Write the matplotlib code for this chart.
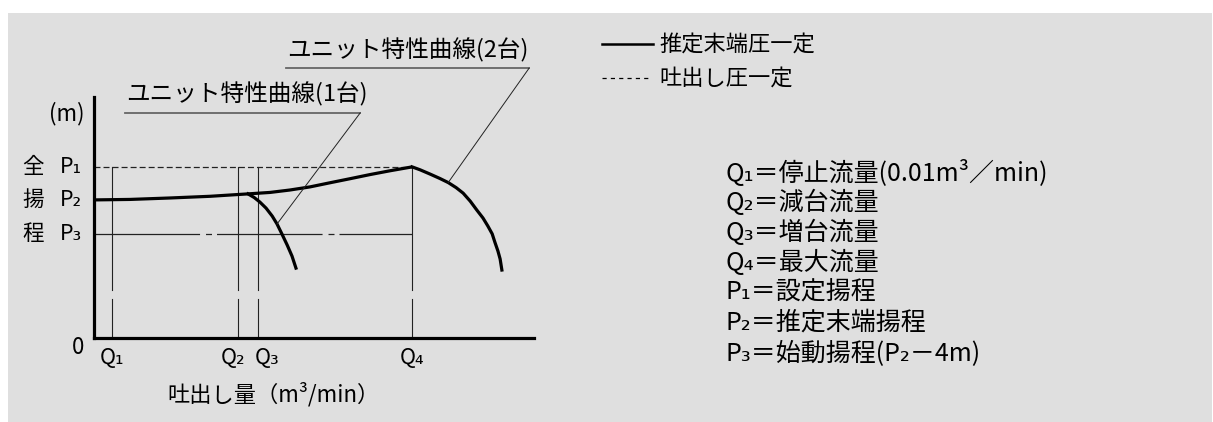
import matplotlib
matplotlib.use("Agg")
import matplotlib.pyplot as plt
from matplotlib.lines import Line2D
from matplotlib.patches import Rectangle

plt.rcParams['font.family'] = ['Noto Sans CJK JP', 'DejaVu Sans']
plt.rcParams['lines.scale_dashes'] = False

# flow marks Q1..Q4 and head marks P1..P3 (schematic units)
flow_marks = [0.41, 3.27, 3.73, 7.23]
flow_labels = ['Q₁', 'Q₂', 'Q₃', 'Q₄']
head_marks = [7.10, 5.73, 4.32]
head_labels = ['P₁', 'P₂', 'P₃']
head_title = ['全', '揚', '程']

# estimated end pressure constant curve (from P2 up to the Q4/P1 corner)
main_x = [0, 0.82, 1.73, 2.64, 3.50, 4.00, 4.45, 4.91, 5.36, 5.82, 6.27, 6.73, 7.23]
main_y = [5.73, 5.75, 5.81, 5.88, 5.98, 6.04, 6.14, 6.27, 6.44, 6.61, 6.78, 6.94, 7.10]

# unit characteristic curves
one_x = [3.50, 3.64, 3.77, 3.91, 4.05, 4.16, 4.27, 4.39, 4.50, 4.59]
one_y = [5.98, 5.83, 5.64, 5.39, 5.06, 4.73, 4.32, 3.86, 3.40, 2.90]
two_x = [7.23, 7.41, 7.64, 7.86, 8.05, 8.23, 8.39, 8.55, 8.70, 8.84,
         8.95, 9.05, 9.11, 9.18, 9.23, 9.27]
two_y = [7.10, 6.98, 6.80, 6.62, 6.45, 6.24, 6.01, 5.68, 5.31, 4.98,
         4.65, 4.32, 3.98, 3.61, 3.28, 2.82]

legend_labels = ['推定末端圧一定', '吐出し圧一定']
notes = ['Q₁＝停止流量(0.01m³／min)', 'Q₂＝減台流量', 'Q₃＝増台流量', 'Q₄＝最大流量',
         'P₁＝設定揚程', 'P₂＝推定末端揚程', 'P₃＝始動揚程(P₂－4m)']

W, H = 1213, 422
fig = plt.figure(figsize=(W / 100, H / 100), dpi=100, facecolor='white')
fig.add_artist(Rectangle((8 / W, 0), (W - 9) / W, (H - 13) / H,
                         transform=fig.transFigure, facecolor='#dfdfdf',
                         edgecolor='none', zorder=-10))

def fx(x):
    return x / W

def fy(y):
    return 1 - y / H

ax = fig.add_axes([fx(94), fy(338), (534 - 94) / W, (338 - 97) / H])
ax.set_facecolor('none')
ax.set_xlim(0, 10)
ax.set_ylim(0, 10)
for s in ['top', 'right']:
    ax.spines[s].set_visible(False)
for s in ['left', 'bottom']:
    ax.spines[s].set_linewidth(2.3)
ax.set_xticks([])
ax.set_yticks([])

thin = dict(color='#222222', linewidth=0.8)
gap_top, gap_bot = 1.99, 1.62

# vertical Q lines with a break near the bottom
for q in flow_marks:
    ax.plot([q, q], [head_marks[0], gap_top], **thin)
    ax.plot([q, q], [gap_bot, 0], **thin)

# P1 dashed, P3 dash-dot
ax.plot([0, flow_marks[3]], [head_marks[0], head_marks[0]], color='#222222',
        linewidth=0.9, dashes=(4.3, 2.2))
ax.plot([0, flow_marks[3]], [head_marks[2], head_marks[2]], color='#222222',
        linewidth=0.9, dashes=(76, 4.3, 4.3, 3.6))

curve = dict(color='black', linewidth=2.3, solid_joinstyle='round')
ax.plot(main_x, main_y, solid_capstyle='butt', **curve)
ax.plot(one_x, one_y, **curve)
ax.plot(two_x, two_y, **curve)

# axis labels
label_shift = [0, -0.1, 0.2, 0]
for q, dq, lab in zip(flow_marks, label_shift, flow_labels):
    ax.text(q + dq, -0.85, lab, ha='center', va='center', fontsize=15.5, clip_on=False)
for p, lab, t in zip(head_marks, head_labels, head_title):
    ax.text(-0.77, p, lab, ha='left', va='center', fontsize=15.5, clip_on=False)
    ax.text(-1.39, p, t, ha='center', va='center', fontsize=15.5, clip_on=False)
ax.text(-0.22, 9.3, '(m)', ha='right', va='center', fontsize=16, clip_on=False)
ax.text(-0.22, -0.38, '0', ha='right', va='center', fontsize=16, clip_on=False)
ax.text(4.09, -2.35, '吐出し量（m³/min）', ha='center', va='center', fontsize=16,
        clip_on=False)

# callout labels with underline and leader
callouts = [('ユニット特性曲線(1台)', 0.70, 6.05, 9.34, one_x[5], one_y[5]),
            ('ユニット特性曲線(2台)', 4.36, 9.89, 11.2, two_x[4], two_y[4])]
for lab, x0, x1, yl, tx, ty in callouts:
    ax.text(x0 + 0.02, yl + 0.25, lab, ha='left', va='bottom', fontsize=17,
            clip_on=False)
    ax.plot([x0, x1], [yl, yl], color='#666666', linewidth=1.3, clip_on=False)
    ax.plot([x1, tx], [yl, ty], color='#222222', linewidth=0.7, clip_on=False)

# legend
fig.add_artist(Line2D([fx(602), fx(653)], [fy(44), fy(44)], color='black',
                      linewidth=1.8, transform=fig.transFigure))
fig.add_artist(Line2D([fx(602), fx(650)], [fy(78), fy(78)], color='black',
                      linewidth=0.9, dashes=(3, 3), transform=fig.transFigure))
fig.text(fx(659), fy(44), legend_labels[0], ha='left', va='center', fontsize=16)
fig.text(fx(659), fy(78), legend_labels[1], ha='left', va='center', fontsize=16)

# notes block
for i, n in enumerate(notes):
    fig.text(fx(725), fy(173 + 30 * i), n, ha='left', va='center', fontsize=18)

fig.savefig('out.png', dpi=100, facecolor='white')
